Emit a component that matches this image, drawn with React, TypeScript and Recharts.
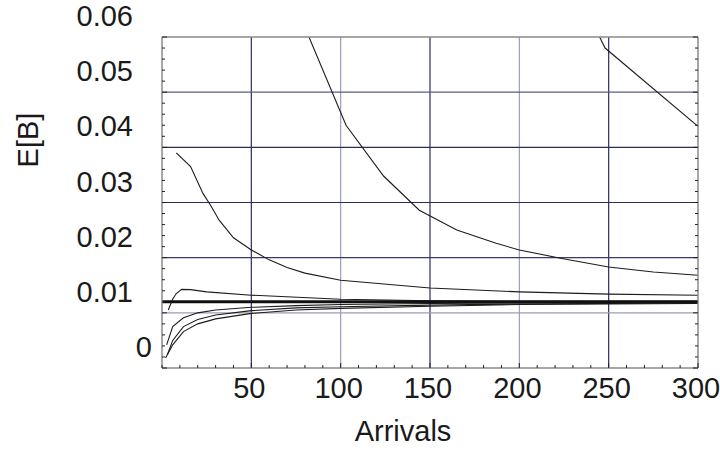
import { LineChart, Line, XAxis, YAxis, ReferenceLine } from 'recharts'

const FONT = '"Liberation Sans", Arial, Helvetica, sans-serif'

// curves: arrivals -> E[B]
const arrA = [225, 248, 300]
const ebA = [0.073, 0.058, 0.0438]

const arrB = [75, 103, 124, 144, 165, 187, 200, 223, 250, 275, 300]
const ebB = [0.0656, 0.044, 0.0348, 0.0286, 0.025, 0.0226, 0.0214, 0.0199, 0.0183, 0.0174, 0.0168]

const arrC = [8, 16, 23, 27, 32, 40, 50, 60, 70, 80, 100, 150, 200, 250, 300]
const ebC = [0.039, 0.0365, 0.0316, 0.0296, 0.0268, 0.0236, 0.0214, 0.0196, 0.0182, 0.0172, 0.0159, 0.0145, 0.0138, 0.0134, 0.0132]

const arrD = [3.5, 6, 8, 11, 16, 25, 50, 100, 150, 200, 250, 300]
const ebD = [0.0105, 0.0125, 0.0135, 0.01425, 0.0142, 0.0138, 0.0132, 0.01245, 0.0122, 0.0121, 0.0121, 0.0121]

const arrE = [2.6, 6, 12, 20, 30, 50, 75, 100, 150, 200, 300]
const ebE = [0.0042, 0.0075, 0.0091, 0.01, 0.0105, 0.011, 0.0113, 0.0115, 0.0117, 0.0118, 0.0119]

const arrF = [3, 6, 12, 20, 30, 50, 75, 100, 150, 200, 300]
const ebF = [0.0024, 0.005, 0.0075, 0.0088, 0.0096, 0.0104, 0.0109, 0.0111, 0.0114, 0.0116, 0.0118]

const arrG = [2, 6, 12, 20, 30, 50, 75, 100, 150, 200, 300]
const ebG = [0.0018, 0.0042, 0.0066, 0.008, 0.0089, 0.0099, 0.0105, 0.0108, 0.0112, 0.0115, 0.0117]

// the thick constant line
const arrLimit = [0, 300]
const ebLimit = [0.012, 0.012]

// grid lines and their colours
const gridX = [50, 100, 150, 200, 250]
const gridXColor = ['#2c2c5c', '#9c9cba', '#2c2c5c', '#9c9cba', '#2c2c5c']
const gridY = [0.01, 0.02, 0.03, 0.04, 0.05]
const gridYColor = ['#9c9cba', '#3a3a6a', '#2c2c5c', '#2c2c5c', '#5a5a84']

// tick labels
const xLabels = [50, 100, 150, 200, 250, 300]
const yLabels = [0, 0.01, 0.02, 0.03, 0.04, 0.05, 0.06]
const yLabelText = ['0', '0.01', '0.02', '0.03', '0.04', '0.05', '0.06']

const xTicks = Array.from({ length: 31 }, (_, i) => i * 10)
const yTicks = Array.from({ length: 31 }, (_, i) => Number((i * 0.002).toFixed(3)))

const pts = (xs: number[], ys: number[]) => xs.map((x, i) => ({ x, y: ys[i] }))

const curves = [
  pts(arrA, ebA),
  pts(arrB, ebB),
  pts(arrC, ebC),
  pts(arrD, ebD),
  pts(arrE, ebE),
  pts(arrF, ebF),
  pts(arrG, ebG),
]

const TICK = '#222'
const FRAME = '#8a8a8a'

const yLabelIndex = (v: number) => yLabels.findIndex((l) => Math.abs(l - v) < 1e-9)

function BottomTick({ x, y, payload }: any) {
  const major = xLabels.includes(payload.value)
  return (
    <g>
      <line x1={x} x2={x} y1={y} y2={y - (major ? 5 : 3)} stroke={TICK} />
      {major && (
        <text x={x - 2} y={y + 30} textAnchor="middle" fontSize={29} fontFamily={FONT} fill="#1a1a1a">
          {payload.value}
        </text>
      )}
    </g>
  )
}

function TopTick({ x, y, payload }: any) {
  const major = xLabels.includes(payload.value)
  return <line x1={x} x2={x} y1={y} y2={y + (major ? 5 : 3)} stroke={TICK} />
}

function LeftTick({ x, y, payload }: any) {
  const idx = yLabelIndex(payload.value)
  const major = idx >= 0
  return (
    <g>
      <line x1={x} x2={x + (major ? 5 : 3)} y1={y} y2={y} stroke={TICK} />
      {major && (
        <text
          x={idx === 0 ? 152 : 133}
          y={y - 11}
          textAnchor="end"
          fontSize={29}
          fontFamily={FONT}
          fill="#1a1a1a"
        >
          {yLabelText[idx]}
        </text>
      )}
    </g>
  )
}

function RightTick({ x, y, payload }: any) {
  const major = yLabelIndex(payload.value) >= 0
  return <line x1={x} x2={x - (major ? 5 : 3)} y1={y} y2={y} stroke={TICK} />
}

function XTitle() {
  return (
    <text x={403} y={441} textAnchor="middle" fontSize={29} fontFamily={FONT} fill="#1a1a1a">
      Arrivals
    </text>
  )
}

function YTitle() {
  return (
    <text
      x={28}
      y={140}
      transform="rotate(-90, 28, 140)"
      textAnchor="middle"
      dominantBaseline="central"
      fontSize={29}
      fontFamily={FONT}
      fill="#1a1a1a"
    >
      E[B]
    </text>
  )
}

export default function App() {
  return (
    <div style={{ position: 'absolute', left: 0, top: 0, width: 720, height: 458, background: '#fff' }}>
      <LineChart width={720} height={458} margin={{ top: 36, right: 21, bottom: 89, left: 161 }}>
        <XAxis
          type="number"
          dataKey="x"
          domain={[0, 300]}
          ticks={xTicks}
          interval={0}
          height={1}
          tickSize={0}
          tickMargin={0}
          tickLine={false}
          axisLine={{ stroke: FRAME, strokeWidth: 1.5 }}
          tick={<BottomTick />}
          label={<XTitle />}
        />
        <XAxis
          xAxisId="top"
          orientation="top"
          type="number"
          dataKey="x"
          domain={[0, 300]}
          ticks={xTicks}
          interval={0}
          height={1}
          tickSize={0}
          tickMargin={0}
          tickLine={false}
          axisLine={{ stroke: FRAME, strokeWidth: 1.5 }}
          tick={<TopTick />}
        />
        <YAxis
          type="number"
          domain={[0, 0.06]}
          ticks={yTicks}
          interval={0}
          width={1}
          tickSize={0}
          tickMargin={0}
          tickLine={false}
          allowDataOverflow
          axisLine={{ stroke: FRAME, strokeWidth: 1.5 }}
          tick={<LeftTick />}
          label={<YTitle />}
        />
        <YAxis
          yAxisId="right"
          orientation="right"
          type="number"
          domain={[0, 0.06]}
          ticks={yTicks}
          interval={0}
          width={1}
          tickSize={0}
          tickMargin={0}
          tickLine={false}
          allowDataOverflow
          axisLine={{ stroke: FRAME, strokeWidth: 1.5 }}
          tick={<RightTick />}
        />

        {gridX.map((v, i) => (
          <ReferenceLine key={'gx' + v} x={v} stroke={gridXColor[i]} strokeWidth={1.2} />
        ))}
        {gridY.map((v, i) => (
          <ReferenceLine key={'gy' + v} y={v} stroke={gridYColor[i]} strokeWidth={1.2} />
        ))}

        {curves.map((d, i) => (
          <Line
            key={i}
            data={d}
            dataKey="y"
            type="linear"
            stroke="#1c1c1c"
            strokeWidth={1.1}
            dot={false}
            activeDot={false}
            isAnimationActive={false}
          />
        ))}
        <Line
          data={pts(arrLimit, ebLimit)}
          dataKey="y"
          type="linear"
          stroke="#111"
          strokeWidth={3}
          dot={false}
          activeDot={false}
          isAnimationActive={false}
        />
      </LineChart>
    </div>
  )
}
